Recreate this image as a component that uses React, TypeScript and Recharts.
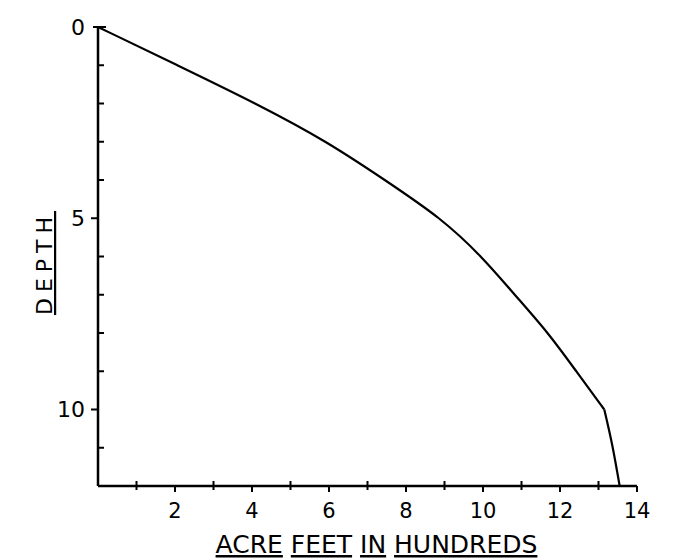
import React from 'react';
import { LineChart, Line, XAxis, YAxis, Label } from 'recharts';

// Depth (feet) vs. capacity (acre feet in hundreds)
const depths = [0, 1, 2, 3, 4, 5, 6, 7, 8, 9, 10, 11, 12];
const acreFeet = [0, 2.06, 4.11, 5.96, 7.45, 8.92, 9.97, 10.82, 11.7, 12.42, 13.15, 13.37, 13.55];
// the curve bends sharply at this depth; below it the line is nearly straight
const breakDepth = 10;

const xTicks = [1, 2, 3, 4, 5, 6, 7, 8, 9, 10, 11, 12, 13, 14];
const xTickLabels = [2, 4, 6, 8, 10, 12, 14];
const yTicks = [0, 1, 2, 3, 4, 5, 6, 7, 8, 9, 10, 11, 12];
const yTickLabels = [0, 5, 10];

const xTitleWords = ['ACRE', 'FEET', 'IN', 'HUNDREDS'];
const yTitle = 'DEPTH';

const data = depths.map((d, i) => ({
  acre: acreFeet[i],
  upper: d <= breakDepth ? d : null,
  lower: d >= breakDepth ? d : null,
}));

const FONT = '"DejaVu Sans", sans-serif';

const XTick = (props: any) => {
  const { x, y, payload } = props;
  const v = payload.value;
  const even = v % 2 === 0;
  return (
    <g>
      <line x1={x} x2={x} y1={even ? y : y - 5} y2={y + (even ? 6 : 4)} stroke="#000" strokeWidth={2} />
      {xTickLabels.includes(v) && (
        <text x={x} y={y + 32} textAnchor="middle" fontSize={21} fontFamily={FONT} fill="#000">
          {v}
        </text>
      )}
    </g>
  );
};

const YTick = (props: any) => {
  const { x, y, payload } = props;
  const v = payload.value;
  const major = yTickLabels.includes(v);
  let x1 = x;
  let x2 = x + 6;
  if (v === 0) {
    x1 = x - 5;
    x2 = x + 8;
  } else if (major) {
    x1 = x - 7;
    x2 = x;
  }
  return (
    <g>
      <line x1={x1} x2={x2} y1={y} y2={y} stroke="#000" strokeWidth={2} />
      {major && (
        <text x={x - 13} y={y} dy="0.36em" textAnchor="end" fontSize={22} fontFamily={FONT} fill="#000">
          {v}
        </text>
      )}
    </g>
  );
};

const XTitle = (props: any) => {
  const vb = props.viewBox || { x: 90, y: 478, width: 539, height: 73 };
  const cx = vb.x + vb.width / 2 + 9;
  const by = vb.y + 67;
  return (
    <text x={cx} y={by} textAnchor="middle" fontSize={25} fontFamily={FONT} fill="#000">
      {xTitleWords.map((w, i) => (
        <React.Fragment key={w}>
          <tspan style={{ textDecoration: 'underline', textDecorationColor: '#aaaaaa' }}>{w}</tspan>
          {i < xTitleWords.length - 1 ? <tspan> </tspan> : null}
        </React.Fragment>
      ))}
    </text>
  );
};

const YTitle = () => {
  const x = 44;
  const y = 255;
  return (
    <text
      x={x}
      y={y}
      transform={`rotate(-90, ${x}, ${y})`}
      textAnchor="middle"
      fontSize={22}
      letterSpacing={6}
      fontFamily={FONT}
      fill="#000"
      style={{ textDecoration: 'underline' }}
    >
      {yTitle}
    </text>
  );
};

export default function App() {
  return (
    <div style={{ width: 684, height: 551, background: '#fff' }}>
      <LineChart
        width={684}
        height={551}
        data={data}
        margin={{ top: 19, right: 55, bottom: 0, left: 0 }}
      >
        <XAxis
          type="number"
          dataKey="acre"
          domain={[0, 14]}
          ticks={xTicks}
          interval={0}
          tickSize={0}
          tickMargin={0}
          tickLine={false}
          tick={<XTick />}
          axisLine={{ stroke: '#000', strokeWidth: 2.5 }}
          height={73}
          allowDataOverflow
        >
          <Label content={<XTitle />} />
        </XAxis>
        <YAxis
          type="number"
          domain={[0, 12]}
          reversed
          ticks={yTicks}
          interval={0}
          tickSize={0}
          tickMargin={0}
          tickLine={false}
          tick={<YTick />}
          axisLine={{ stroke: '#000', strokeWidth: 2.5 }}
          width={90}
          allowDataOverflow
        >
          <Label content={<YTitle />} />
        </YAxis>
        <Line
          type="basis"
          dataKey="upper"
          stroke="#000"
          strokeWidth={2.2}
          dot={false}
          activeDot={false}
          connectNulls={false}
          isAnimationActive={false}
        />
        <Line
          type="monotone"
          dataKey="lower"
          stroke="#000"
          strokeWidth={2.2}
          dot={false}
          activeDot={false}
          connectNulls={false}
          isAnimationActive={false}
        />
      </LineChart>
    </div>
  );
}
